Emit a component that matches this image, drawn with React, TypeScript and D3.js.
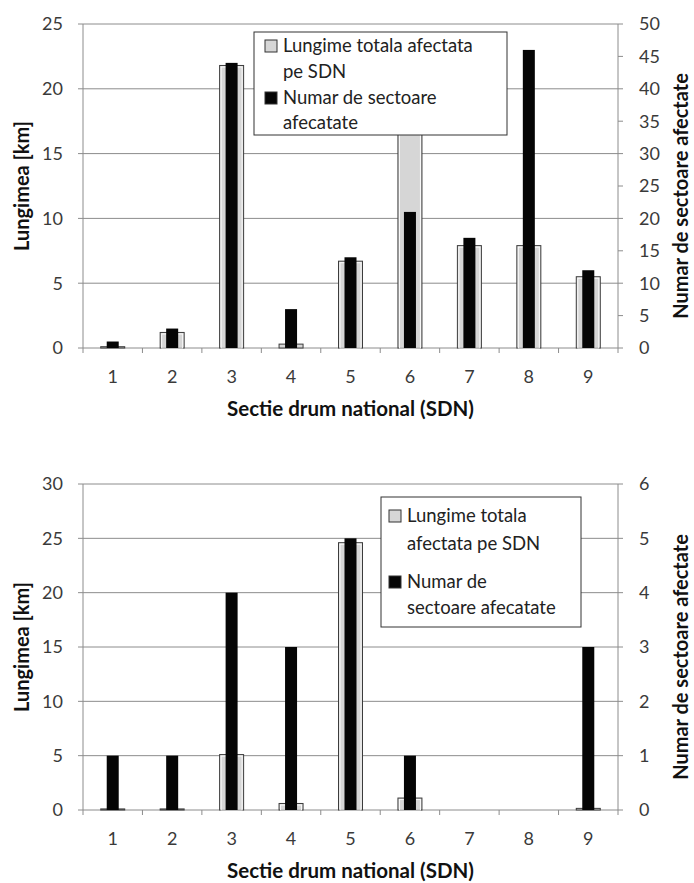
import React from 'react';
import * as d3 from 'd3';

// sectii drum national (SDN)
const sections = ['1', '2', '3', '4', '5', '6', '7', '8', '9'];

// primul grafic
const lengthTop = [0.1, 1.2, 21.8, 0.3, 6.7, 18, 7.9, 7.9, 5.5];
const countTop = [1, 3, 44, 6, 14, 21, 17, 46, 12];
const leftTicksTop = [0, 5, 10, 15, 20, 25];
const rightTicksTop = [0, 5, 10, 15, 20, 25, 30, 35, 40, 45, 50];
const legendTop = [['Lungime totala afectata', 'pe SDN'], ['Numar de sectoare', 'afecatate']];

// al doilea grafic
const lengthBottom = [0.1, 0.1, 5.1, 0.6, 24.6, 1.1, 0, 0, 0.15];
const countBottom = [1, 1, 4, 3, 5, 1, 0, 0, 3];
const leftTicksBottom = [0, 5, 10, 15, 20, 25, 30];
const rightTicksBottom = [0, 1, 2, 3, 4, 5, 6];
const legendBottom = [['Lungime totala', 'afectata pe SDN'], ['Numar de', 'sectoare afecatate']];

const leftTitle = 'Lungimea [km]';
const rightTitle = 'Numar de sectoare afectate';
const xTitle = 'Sectie drum national (SDN)';

const FONT = 'Lato, "Open Sans", sans-serif';
const GRID = '#8c8c8c';
const TXT = '#3a3a3a';

const X0 = 83;
const X1 = 618;

const Chart = ({ top, height, lengths, counts, leftTicks, rightTicks, legend, box }) => {
	const bottom = top + height;
	const x = d3.scaleBand().domain(sections).range([ X0, X1 ]);
	const yL = d3.scaleLinear().domain([ 0, d3.max(leftTicks) ]).range([ bottom, top ]);
	const yR = d3.scaleLinear().domain([ 0, d3.max(rightTicks) ]).range([ bottom, top ]);
	const wGrey = 24;
	const wBlack = 12;

	return (
		<g>
			{leftTicks.map((t) => (
				<g key={'l' + t}>
					<line x1={X0 - 5} x2={X1} y1={yL(t)} y2={yL(t)} stroke={GRID} strokeWidth={1} />
					<text x={X0 - 20} y={yL(t)} dy="0.35em" textAnchor="end" fontSize={18} fill={TXT} fontFamily={FONT}>
						{t}
					</text>
				</g>
			))}
			{rightTicks.map((t) => (
				<g key={'r' + t}>
					<line x1={X1} x2={X1 + 5} y1={yR(t)} y2={yR(t)} stroke={GRID} strokeWidth={1} />
					<text x={X1 + 21} y={yR(t)} dy="0.35em" textAnchor="start" fontSize={18} fill={TXT} fontFamily={FONT}>
						{t}
					</text>
				</g>
			))}
			<line x1={X0} x2={X0} y1={top} y2={bottom} stroke={GRID} />
			<line x1={X1} x2={X1} y1={top} y2={bottom} stroke={GRID} />
			{sections.map((s) => (
				<line key={'xt' + s} x1={x(s)} x2={x(s)} y1={bottom} y2={bottom + 5} stroke={GRID} />
			))}
			<line x1={X1} x2={X1} y1={bottom} y2={bottom + 5} stroke={GRID} />

			{sections.map((s, i) => {
				const cx = x(s) + x.bandwidth() / 2;
				const gy = yL(lengths[i]);
				const gh = bottom - gy;
				const by = yR(counts[i]);
				return (
					<g key={'bar' + s}>
						{lengths[i] > 0 && (
							<g>
								<rect x={cx - wGrey / 2} y={gy} width={wGrey} height={gh} fill="#d6d6d6" stroke="#3c3c3c" strokeWidth={1} />
								{gh > 4 && (
									<rect x={cx - wGrey / 2 + 1.5} y={gy + 1.5} width={wGrey - 3} height={gh - 1.5} fill="none" stroke="#fafafa" strokeWidth={1} />
								)}
							</g>
						)}
						{counts[i] > 0 && <rect x={cx - wBlack / 2} y={by} width={wBlack} height={bottom - by} fill="#050505" />}
						<text x={cx} y={bottom + 29} dy="0.35em" textAnchor="middle" fontSize={18} fill={TXT} fontFamily={FONT}>
							{s}
						</text>
					</g>
				);
			})}

			<rect x={box.x} y={box.y} width={box.w} height={box.h} fill="#fff" stroke="#333" strokeWidth={1} />
			{legend.map((lines, k) => (
				<g key={'lg' + k}>
					<rect
						x={box.sx}
						y={box.y + box.lines[k * 2] - 6}
						width={12}
						height={12}
						fill={k === 0 ? '#d6d6d6' : '#050505'}
						stroke="#333"
						strokeWidth={1}
					/>
					{lines.map((ln, j) => (
						<text key={ln} x={box.tx} y={box.y + box.lines[k * 2 + j]} dy="0.35em" fontSize={18.5} fill="#222" fontFamily={FONT}>
							{ln}
						</text>
					))}
				</g>
			))}

			<text transform={`translate(22, ${(top + bottom) / 2}) rotate(-90)`} textAnchor="middle" dy="0.35em" fontSize={20} fontWeight="bold" fill="#111" fontFamily={FONT}>
				{leftTitle}
			</text>
			<text transform={`translate(681, ${(top + bottom) / 2 + 10}) rotate(-90)`} textAnchor="middle" dy="0.35em" fontSize={20} fontWeight="bold" fill="#111" fontFamily={FONT}>
				{rightTitle}
			</text>
			<text x={(X0 + X1) / 2} y={bottom + 61} dy="0.35em" textAnchor="middle" fontSize={20.5} fontWeight="bold" fill="#111" fontFamily={FONT}>
				{xTitle}
			</text>
		</g>
	);
};

const App = () => {
	return (
		<svg width={694} height={883} style={{ position: 'absolute', left: 0, top: 0, background: '#fff' }}>
			<rect width={694} height={883} fill="#fff" />
			<Chart
				top={24}
				height={324}
				lengths={lengthTop}
				counts={countTop}
				leftTicks={leftTicksTop}
				rightTicks={rightTicksTop}
				legend={legendTop}
				box={{ x: 254, y: 32, w: 253, h: 103, sx: 265, tx: 283, lines: [ 14, 40, 66, 91 ] }}
			/>
			<Chart
				top={484}
				height={326}
				lengths={lengthBottom}
				counts={countBottom}
				leftTicks={leftTicksBottom}
				rightTicks={rightTicksBottom}
				legend={legendBottom}
				box={{ x: 381, y: 497, w: 200, h: 130, sx: 389, tx: 407, lines: [ 19, 47, 85, 111 ] }}
			/>
		</svg>
	);
};

export default App;
